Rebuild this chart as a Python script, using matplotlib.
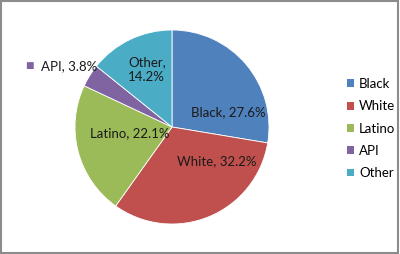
import matplotlib
matplotlib.use("Agg")
import matplotlib.pyplot as plt
from matplotlib.patches import Rectangle

# Data
groups = ["Black", "White", "Latino", "API", "Other"]
shares = [27.6, 32.2, 22.1, 3.8, 14.2]
colors = ["#4F81BD", "#C0504D", "#9BBB59", "#8064A2", "#4BACC6"]

# label anchors (data units, pie radius = 1)
label_pos = {
    "Black": (0.58, 0.155),
    "White": (0.46, -0.35),
    "Latino": (-0.44, -0.06),
    "Other": (-0.26, 0.59),
    "API": (-1.35, 0.63),
}

plt.rcParams["font.family"] = ["Lato", "DejaVu Sans"]
FS = 9.5

W, H = 400, 254
fig = plt.figure(figsize=(W / 100, H / 100), dpi=100)
fig.patch.set_facecolor("white")

cx, cy, r = 172, 127, 97
ax = fig.add_axes([(cx - r) / W, (H - cy - r) / H, 2 * r / W, 2 * r / H])

wedges, _ = ax.pie(shares, colors=colors, startangle=90, counterclock=False,
                   radius=1, wedgeprops=dict(linewidth=0.6, edgecolor="white"))
ax.set_xlim(-1, 1)
ax.set_ylim(-1, 1)
ax.set_aspect("equal")
ax.axis("off")

for name, val in zip(groups, shares):
    x, y = label_pos[name]
    if name == "Other":
        ax.text(x, y, f"{name},\n{val}%", ha="center", va="center",
                fontsize=FS, color="#1a1a1a", linespacing=1.25, clip_on=False)
    elif name == "API":
        ax.text(x, y, f"{name}, {val}%", ha="left", va="center",
                fontsize=FS, color="#1a1a1a", clip_on=False)
    else:
        ax.text(x, y, f"{name}, {val}%", ha="center", va="center",
                fontsize=FS, color="#1a1a1a", clip_on=False)

# key square next to the outside API label
ax.text(label_pos["API"][0] - 0.12, label_pos["API"][1], "\u25A0",
        ha="center", va="center", fontsize=6.5, color=colors[3],
        family="DejaVu Sans", clip_on=False)

leg = fig.legend(wedges, groups, loc="upper left",
                 bbox_to_anchor=(347 / W, 1 - 78 / H), frameon=False,
                 fontsize=FS, handlelength=0.55, handleheight=0.55,
                 handletextpad=0.35, labelspacing=0.78,
                 borderpad=0, borderaxespad=0)
for h in leg.legend_handles:
    h.set_linewidth(0)

fig.add_artist(Rectangle((0.75 / W, 1.5 / H), (W - 2.5) / W, (H - 2.5) / H,
                         transform=fig.transFigure, fill=False,
                         edgecolor="#8c8c8c", linewidth=1.5))

fig.savefig("out.png", dpi=100)
